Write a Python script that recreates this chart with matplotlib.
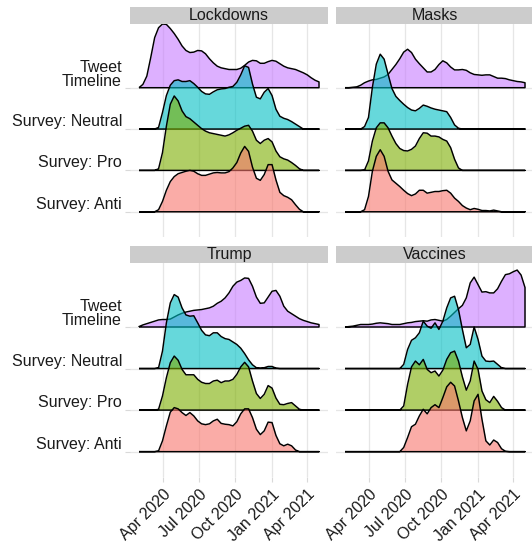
import numpy as np
import pandas as pd
import matplotlib
matplotlib.use("Agg")
import matplotlib.pyplot as plt
import matplotlib.dates as mdates
import matplotlib.transforms as mtransforms

plt.rcParams['font.family'] = ['Liberation Sans', 'DejaVu Sans']

# ---------------- data ----------------
topics = ['Lockdowns', 'Masks', 'Trump', 'Vaccines']
groups = ['Survey: Anti', 'Survey: Pro', 'Survey: Neutral', 'Tweet Timeline']
group_labels = ['Survey: Anti', 'Survey: Pro', 'Survey: Neutral', 'Tweet\nTimeline']
group_colors = ['#F8766D', '#7CAE00', '#00BFC4', '#C77CFF']

# density grid (dates at which ridge heights were read)
date_start = '2020-01-31'
date_end = '2021-05-01'
n_points = 47

tick_dates = ['2020-04-01', '2020-07-01', '2020-10-01', '2021-01-01', '2021-04-01']
tick_labels = ['Apr 2020', 'Jul 2020', 'Oct 2020', 'Jan 2021', 'Apr 2021']

# ridge heights (in units of ridge spacing)
lockdowns_tweet = [0.00, 0.08, 0.28, 0.73, 1.21, 1.45, 1.54, 1.53, 1.43, 1.31,
                   1.17, 1.01, 0.90, 0.85, 0.86, 0.90, 0.89, 0.82, 0.70, 0.60,
                   0.52, 0.48, 0.46, 0.44, 0.44, 0.44, 0.47, 0.54, 0.62, 0.66,
                   0.65, 0.59, 0.59, 0.63, 0.66, 0.64, 0.58, 0.52, 0.48, 0.46,
                   0.44, 0.40, 0.36, 0.31, 0.24, 0.18, 0.14]
lockdowns_neutral = [0, 0, 0, 0, 0, 0.04, 0.40, 0.81, 1.06, 1.17,
                     1.19, 1.15, 1.15, 1.17, 1.10, 1.01, 0.91, 0.85, 0.84, 0.90,
                     0.95, 0.97, 0.98, 1.01, 1.03, 1.13, 1.31, 1.53, 1.49, 1.09,
                     0.77, 0.73, 0.89, 0.98, 0.81, 0.48, 0.31, 0.26, 0.23, 0.18,
                     0.12, 0.06, 0, 0, 0, 0, 0]
lockdowns_pro = [0, 0, 0, 0, 0, 0.04, 0.43, 1.07, 1.60, 1.80,
                 1.68, 1.44, 1.30, 1.25, 1.17, 1.09, 1.01, 0.95, 0.91, 0.89,
                 0.87, 0.85, 0.83, 0.86, 0.91, 0.97, 1.02, 1.07, 1.09, 0.95,
                 0.73, 0.65, 0.73, 0.77, 0.69, 0.47, 0.33, 0.28, 0.25, 0.19,
                 0.12, 0.04, 0, 0, 0, 0, 0]
lockdowns_anti = [0, 0, 0, 0, 0, 0.05, 0.25, 0.52, 0.73, 0.85,
                  0.92, 0.95, 0.98, 1.00, 0.98, 0.92, 0.88, 0.88, 0.91, 0.94,
                  0.95, 0.94, 0.94, 0.97, 1.06, 1.19, 1.42, 1.58, 1.46, 1.08,
                  0.81, 0.76, 0.90, 1.14, 1.14, 0.77, 0.47, 0.39, 0.35, 0.29,
                  0.17, 0.06, 0, 0, 0, 0, 0]

masks_tweet = [0, 0, 0.01, 0.02, 0.06, 0.12, 0.16, 0.19, 0.20, 0.23,
               0.26, 0.32, 0.44, 0.56, 0.70, 0.86, 0.93, 0.85, 0.69, 0.58,
               0.48, 0.38, 0.38, 0.44, 0.56, 0.65, 0.60, 0.50, 0.43, 0.43,
               0.44, 0.42, 0.36, 0.32, 0.31, 0.30, 0.31, 0.31, 0.27, 0.23,
               0.23, 0.22, 0.19, 0.17, 0.15, 0.14, 0.12]
masks_neutral = [0, 0, 0, 0, 0, 0.06, 0.28, 1.01, 1.57, 1.81,
                 1.69, 1.33, 0.98, 0.79, 0.69, 0.60, 0.52, 0.46, 0.44, 0.50,
                 0.58, 0.55, 0.51, 0.48, 0.46, 0.44, 0.42, 0.28, 0.10, 0.02,
                 0, 0, 0, 0, 0, 0, 0, 0, 0, 0,
                 0, 0, 0, 0, 0, 0, 0]
masks_pro = [0, 0, 0, 0, 0, 0.01, 0.23, 0.71, 1.03, 1.15,
             1.15, 1.03, 0.83, 0.65, 0.53, 0.48, 0.47, 0.51, 0.59, 0.77,
             0.91, 0.90, 0.83, 0.83, 0.81, 0.75, 0.71, 0.55, 0.27, 0.06,
             0, 0, 0, 0, 0, 0, 0, 0, 0, 0,
             0, 0, 0, 0, 0, 0, 0]
masks_anti = [0, 0, 0, 0, 0, 0.05, 0.37, 0.98, 1.34, 1.50,
              1.34, 0.98, 0.77, 0.69, 0.61, 0.52, 0.44, 0.39, 0.43, 0.52,
              0.52, 0.45, 0.47, 0.49, 0.49, 0.51, 0.52, 0.45, 0.33, 0.25,
              0.15, 0.09, 0.05, 0.08, 0.06, 0.03, 0.03, 0.02, 0.04, 0.02,
              0, 0, 0, 0, 0, 0, 0]

trump_tweet = [0.01, 0.05, 0.08, 0.11, 0.14, 0.17, 0.18, 0.18, 0.19, 0.24,
               0.29, 0.33, 0.36, 0.38, 0.40, 0.41, 0.42, 0.44, 0.46, 0.50,
               0.57, 0.62, 0.70, 0.82, 0.98, 1.08, 1.12, 1.18, 1.17, 0.98,
               0.72, 0.57, 0.58, 0.72, 0.86, 0.88, 0.74, 0.50, 0.38, 0.32,
               0.26, 0.20, 0.16, 0.13, 0.10, 0.08, 0.06]
trump_neutral = [0, 0, 0, 0, 0, 0.02, 0.42, 1.10, 1.58, 1.78,
                 1.72, 1.46, 1.29, 1.26, 1.27, 1.10, 0.92, 0.81, 0.79, 0.86,
                 0.86, 0.77, 0.72, 0.70, 0.64, 0.58, 0.49, 0.36, 0.21, 0.09,
                 0.02, 0.01, 0.02, 0.05, 0.05, 0.01, 0, 0, 0, 0,
                 0, 0, 0, 0, 0, 0, 0]
trump_pro = [0, 0, 0, 0, 0, 0.02, 0.34, 0.78, 1.14, 1.30,
             1.20, 0.98, 0.85, 0.85, 0.85, 0.74, 0.67, 0.64, 0.64, 0.70,
             0.72, 0.66, 0.70, 0.70, 0.74, 0.86, 1.04, 1.15, 1.04, 0.70,
             0.40, 0.28, 0.38, 0.59, 0.53, 0.29, 0.14, 0.13, 0.16, 0.18,
             0.10, 0.02, 0, 0, 0, 0, 0]
trump_anti = [0, 0, 0, 0, 0, 0.02, 0.26, 0.62, 0.95, 1.06,
              1.03, 0.94, 0.87, 0.94, 0.86, 0.74, 0.67, 0.65, 0.67, 0.74,
              0.78, 0.68, 0.66, 0.65, 0.62, 0.72, 0.91, 1.03, 1.03, 0.82,
              0.54, 0.41, 0.50, 0.71, 0.70, 0.39, 0.19, 0.14, 0.18, 0.14,
              0.04, 0, 0, 0, 0, 0, 0]

vaccines_tweet = [0.00, 0.01, 0.02, 0.04, 0.06, 0.06, 0.06, 0.07, 0.09, 0.10,
                  0.09, 0.08, 0.06, 0.06, 0.06, 0.08, 0.10, 0.11, 0.13, 0.14,
                  0.15, 0.14, 0.17, 0.18, 0.16, 0.14, 0.18, 0.26, 0.35, 0.44,
                  0.52, 0.70, 1.06, 1.20, 1.02, 0.84, 0.85, 0.82, 0.82, 0.92,
                  1.10, 1.26, 1.28, 1.33, 1.37, 1.25, 0.95]
vaccines_neutral = [0, 0, 0, 0, 0, 0, 0, 0, 0, 0,
                    0, 0, 0, 0, 0, 0.10, 0.46, 0.68, 0.74, 0.86,
                    1.14, 1.02, 0.97, 1.10, 0.94, 1.14, 1.46, 1.70, 1.74, 1.42,
                    0.94, 0.50, 0.58, 1.00, 0.70, 0.30, 0.18, 0.17, 0.18, 0.10,
                    0.02, 0, 0, 0, 0, 0, 0]
vaccines_pro = [0, 0, 0, 0, 0, 0, 0, 0, 0, 0,
                0, 0, 0, 0, 0, 0.10, 0.62, 1.04, 1.18, 1.09,
                1.22, 0.98, 0.90, 0.94, 0.82, 0.96, 1.22, 1.38, 1.42, 1.18,
                0.80, 0.48, 0.70, 1.18, 0.98, 0.46, 0.25, 0.18, 0.33, 0.21,
                0.06, 0, 0, 0, 0, 0, 0]
vaccines_anti = [0, 0, 0, 0, 0, 0, 0, 0, 0, 0,
                 0, 0, 0, 0, 0, 0.10, 0.34, 0.60, 0.66, 0.86,
                 1.02, 0.91, 1.06, 1.13, 1.06, 1.30, 1.56, 1.67, 1.58, 1.22,
                 0.82, 0.50, 0.74, 1.22, 1.38, 0.78, 0.26, 0.16, 0.28, 0.22,
                 0.07, 0.01, 0, 0, 0, 0, 0]

ridge_data = {
    'Lockdowns': [lockdowns_anti, lockdowns_pro, lockdowns_neutral, lockdowns_tweet],
    'Masks': [masks_anti, masks_pro, masks_neutral, masks_tweet],
    'Trump': [trump_anti, trump_pro, trump_neutral, trump_tweet],
    'Vaccines': [vaccines_anti, vaccines_pro, vaccines_neutral, vaccines_tweet],
}

# ---------------- layout ----------------
W, H = 532, 542
fig = plt.figure(figsize=(W / 100, H / 100), dpi=100)
fig.patch.set_facecolor('white')

def fig_rect(x0, y0, x1, y1):
    return [x0 / W, 1 - y1 / H, (x1 - x0) / W, (y1 - y0) / H]

col_x = [(130, 328), (336, 534)]
row_y = [(24, 237), (263, 477)]
strip_y = [(7, 24), (246, 263)]

dates = pd.date_range(date_start, date_end, periods=n_points)
xnum = mdates.date2num(dates.to_pydatetime())
ticks_num = mdates.date2num(pd.to_datetime(tick_dates).to_pydatetime())
rng = xnum[-1] - xnum[0]
xlim = (xnum[0] - 0.05 * rng, xnum[-1] + 0.05 * rng)
ylim = (0.39, 5.54)
ypos = [1, 2, 3, 4]

text_color = '#1a1a1a'
grid_color = '#e6e6e6'
fs = 11.5

for idx, topic in enumerate(topics):
    r, c = divmod(idx, 2)
    x0, x1 = col_x[c]
    y0, y1 = row_y[r]
    ax = fig.add_axes(fig_rect(x0, y0, x1, y1))
    ax.set_xlim(*xlim)
    ax.set_ylim(*ylim)
    for sp in ax.spines.values():
        sp.set_visible(False)

    # grid
    for t in ticks_num:
        ax.axvline(t, color=grid_color, lw=0.9, zorder=0)
    for yp in ypos:
        ax.axhline(yp, color=grid_color, lw=0.9, zorder=0)

    # ridges: top first, lower ones drawn over
    for gi in [3, 2, 1, 0]:
        h = np.asarray(ridge_data[topic][gi], dtype=float)
        base = ypos[gi]
        z = 2 + (3 - gi) * 2
        ax.fill_between(xnum, base, base + h, color=group_colors[gi],
                        alpha=0.6, lw=0, zorder=z)
        xs = np.concatenate([[xnum[0]], xnum, [xnum[-1], xnum[0]]])
        ys = np.concatenate([[base], base + h, [base, base]])
        ax.plot(xs, ys, color='black', lw=1.05, zorder=z + 1,
                solid_joinstyle='round', solid_capstyle='butt')

    # axes ticks
    ax.set_xticks(ticks_num)
    ax.set_yticks(ypos)
    ax.tick_params(axis='both', color='#d9d9d9', length=3.5, width=0.8,
                   labelsize=fs, labelcolor=text_color)
    if r == 1:
        ax.set_xticklabels(tick_labels, rotation=45, ha='right', va='top',
                           rotation_mode='anchor')
        ax.tick_params(axis='x', pad=3.5)
    else:
        ax.tick_params(axis='x', bottom=False, labelbottom=False)
    ax.set_yticklabels([])
    if c == 0:
        ax.tick_params(axis='y', left=True)
        for gi, lab in enumerate(group_labels):
            off = -1.5 if '\n' in lab else 0
            tr = ax.get_yaxis_transform() + mtransforms.ScaledTranslation(
                -8 / 100, off / 100, fig.dpi_scale_trans)
            ax.text(0, ypos[gi], lab, transform=tr, ha='right', va='bottom',
                    fontsize=fs, color=text_color, multialignment='right',
                    linespacing=0.95)
    else:
        ax.tick_params(axis='y', left=False)

    # strip
    sx = fig.add_axes(fig_rect(x0, strip_y[r][0], x1, strip_y[r][1]))
    sx.set_facecolor('#cccccc')
    sx.set_xticks([])
    sx.set_yticks([])
    for sp in sx.spines.values():
        sp.set_visible(False)
    sx.text(0.5, 0.5, topic, transform=sx.transAxes, ha='center',
            va='center', fontsize=fs, color=text_color)

fig.savefig('out.png', dpi=100, facecolor='white')
